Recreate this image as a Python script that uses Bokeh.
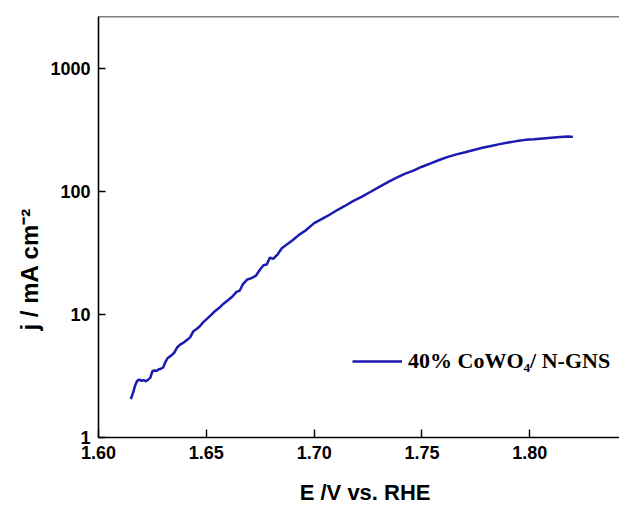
from bokeh.plotting import figure
from bokeh.models import Range1d, FixedTicker, Span, Legend, LegendItem, Title
from bokeh.embed import file_html
from bokeh.resources import INLINE

# ---- data ----
potential = [
    1.6150, 1.6160, 1.6170, 1.6180, 1.6190, 1.6200, 1.6210, 1.6220, 1.6230, 1.6240,
    1.6250, 1.6260, 1.6270, 1.6280, 1.6290, 1.6300, 1.6310, 1.6320, 1.6335, 1.6350,
    1.6365, 1.6380, 1.6395, 1.6410, 1.6425, 1.6440, 1.6455, 1.6470, 1.6485, 1.6500,
    1.6520, 1.6540, 1.6560, 1.6580, 1.6600, 1.6620, 1.6640, 1.6655, 1.6670, 1.6690,
    1.6710, 1.6730, 1.6750, 1.6765, 1.6780, 1.6795, 1.6810, 1.6830, 1.6850, 1.6870,
    1.6900, 1.6930, 1.6960, 1.7000, 1.7030, 1.7060, 1.7100, 1.7140, 1.7180, 1.7220,
    1.7260, 1.7300, 1.7340, 1.7380, 1.7420, 1.7460, 1.7500, 1.7540, 1.7580, 1.7620,
    1.7660, 1.7700, 1.7740, 1.7780, 1.7820, 1.7860, 1.7900, 1.7940, 1.7980, 1.8020,
    1.8060, 1.8100, 1.8140, 1.8180, 1.8200,
]
current_density = [
    2.05, 2.30, 2.65, 2.90, 2.95, 2.88, 2.92, 2.86, 2.95, 3.05,
    3.45, 3.50, 3.48, 3.58, 3.62, 3.70, 4.10, 4.40, 4.60, 4.85,
    5.40, 5.70, 5.90, 6.20, 6.50, 7.30, 7.60, 8.00, 8.60, 9.10,
    9.80, 10.6, 11.3, 12.2, 13.0, 13.9, 15.2, 15.6, 17.6, 19.2,
    19.7, 20.6, 23.2, 25.0, 25.4, 28.9, 28.2, 30.6, 34.4, 36.6,
    40.0, 44.2, 48.0, 55.0, 58.8, 62.6, 69.0, 75.5, 83.0, 90.0,
    98.5, 108, 118, 128, 138, 147, 158, 168, 179, 190,
    199, 207, 216, 225, 233, 241, 248, 255, 261, 264,
    268, 272, 275, 278, 276,
]
x_ticks = [1.60, 1.65, 1.70, 1.75, 1.80]
x_tick_labels = ["1.60", "1.65", "1.70", "1.75", "1.80"]
y_ticks = [1, 10, 100, 1000]
y_tick_labels = ["1", "10", "100", "1000"]
series_label = "40% CoWO\u2084/ N-GNS"
x_title = "E /V vs. RHE"
y_title = "j / mA cm\u207b\u00b2"

x_start, x_end = 1.60, 1.8416
y_start, y_end = 1, 2620

LINE_COLOR = "#1a1ab0"
SANS = "Liberation Sans"

p = figure(
    width=619, height=508, output_backend="svg", toolbar_location=None,
    y_axis_type="log",
    x_range=Range1d(x_start, x_end), y_range=Range1d(y_start, y_end),
    min_border_left=98, min_border_right=0, min_border_top=16, min_border_bottom=71,
)
p.outline_line_color = None
p.xgrid.visible = False
p.ygrid.visible = False
p.background_fill_color = "white"
p.border_fill_color = "white"

r = p.line(potential, current_density, line_color=LINE_COLOR, line_width=2.5)

# axes
for ax in (p.xaxis[0], p.yaxis[0]):
    ax.axis_line_color = "black"
    ax.axis_line_width = 1.6
    ax.major_tick_line_color = "black"
    ax.major_tick_line_width = 1.4
    ax.major_tick_out = 0
    ax.minor_tick_line_color = None
    ax.major_label_text_font = SANS
    ax.major_label_text_font_style = "bold"
    ax.major_label_text_font_size = "18px"
    ax.major_label_text_color = "black"

p.xaxis.ticker = FixedTicker(ticks=x_ticks)
p.xaxis.major_label_overrides = dict(zip(x_ticks, x_tick_labels))
p.xaxis.major_tick_in = 8
p.xaxis.major_label_standoff = 8
# leading no-break spaces nudge the centred title right, as in the reference
p.xaxis.axis_label = "\u00a0\u00a0" + x_title
p.xaxis.axis_label_text_font = SANS
p.xaxis.axis_label_text_font_style = "bold"
p.xaxis.axis_label_text_font_size = "22px"
p.xaxis.axis_label_text_color = "black"
p.xaxis.axis_label_standoff = 18

p.yaxis.ticker = FixedTicker(ticks=y_ticks)
p.yaxis.major_label_overrides = dict(zip(y_ticks, y_tick_labels))
p.yaxis.major_tick_in = 7
p.yaxis.major_label_standoff = 8

# top border only (no right border in the reference)
p.add_layout(Span(location=y_end, dimension="width", line_color="black", line_width=1.6))

# y title as a side-panel title so that it can be offset like the reference
p.add_layout(Title(text=y_title, align="left", offset=107, standoff=10,
                   text_font=SANS, text_font_style="bold", text_font_size="24px",
                   text_color="black"), "left")

legend = Legend(items=[LegendItem(label=series_label, renderers=[r])], location=(254, 63))
legend.border_line_color = None
legend.background_fill_alpha = 0
legend.padding = 0
legend.margin = 0
legend.spacing = 0
legend.glyph_width = 50
legend.glyph_height = 24
legend.label_height = 24
legend.label_standoff = 6
legend.label_text_font = "Liberation Serif"
legend.label_text_font_style = "bold"
legend.label_text_font_size = "22px"
legend.label_text_color = "black"
p.add_layout(legend)

open("out.html", "w").write(file_html(p, INLINE))
